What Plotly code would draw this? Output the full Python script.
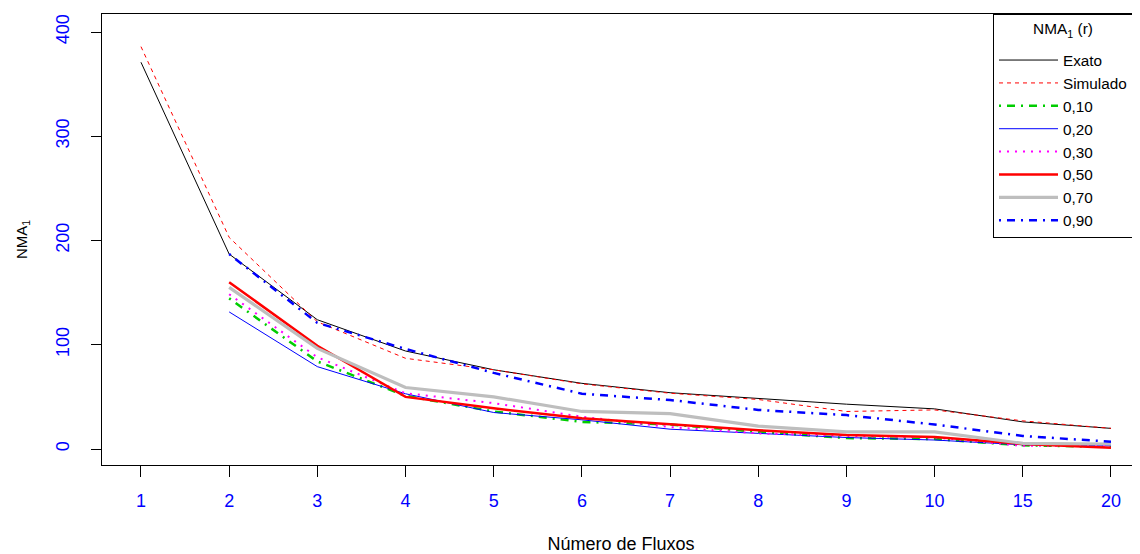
import plotly.graph_objects as go

# ---- data ----
x_labels = ["1", "2", "3", "4", "5", "6", "7", "8", "9", "10", "15", "20"]
exato    = [371, 187, 124, 94, 76, 63, 54, 48.5, 43, 38.5, 26, 19.8]
simulado = [386, 203, 122, 87, 76, 62.5, 53.5, 47.5, 36, 37.5, 27, 19.8]
r_010 = [None, 144.5, 84, 51, 36, 26, 23.5, 16.5, 10.5, 9.5, 3.5, 2]
r_020 = [None, 131.5, 79, 53, 35, 28, 19, 15, 11, 8.6, 4, 3]
r_030 = [None, 148.5, 88, 53.5, 44, 31, 21, 15, 12.5, 11, 3, 3]
r_050 = [None, 160, 99, 50, 39, 29.5, 23.5, 18, 13.5, 11.5, 4.8, 1.3]
r_070 = [None, 155, 96.5, 59, 50, 36, 34, 22, 16.5, 16.5, 5.4, 4.8]
r_090 = [None, 187, 121, 96, 73, 53, 47, 37.5, 32.5, 23.5, 12.5, 7]

names = ["Exato", "Simulado", "0,10", "0,20", "0,30", "0,50", "0,70", "0,90"]
series = [exato, simulado, r_010, r_020, r_030, r_050, r_070, r_090]
styles = [
    dict(color="#000000", width=1, dash="solid"),
    dict(color="#FF0000", width=1, dash="4px,4px"),
    dict(color="#00CD00", width=2.5, dash="2px,6px,8px,6px"),
    dict(color="#0000FF", width=1, dash="solid"),
    dict(color="#FF00FF", width=2, dash="2px,6px"),
    dict(color="#FF0000", width=2.5, dash="solid"),
    dict(color="#BEBEBE", width=3.2, dash="solid"),
    dict(color="#0000FF", width=2.5, dash="2px,6px,8px,6px"),
]

xpos = list(range(1, len(x_labels) + 1))
FONT = "Liberation Sans, Arial, Helvetica, sans-serif"

# page has an 8px body margin: figure coordinates are shifted by 8px
W, H = 1132, 546
ML, MT, MB = 94, 6, 89

fig = go.Figure()
for nm, ys, st in zip(names, series, styles):
    fig.add_trace(go.Scatter(x=xpos, y=ys, mode="lines", name=nm, line=st,
                             connectgaps=False, legendgroup=nm))

fig.update_layout(
    width=W, height=H,
    margin=dict(l=ML, r=0, t=MT, b=MB),
    paper_bgcolor="white", plot_bgcolor="white",
    font=dict(family=FONT, color="black", size=18),
    showlegend=True,
    legend=dict(
        x=(993 - 102) / (1140 - 102), xanchor="left", y=1, yanchor="top",
        bgcolor="white", bordercolor="black", borderwidth=1,
        font=dict(family=FONT, size=15.3, color="black"),
        title=dict(text="<sup>NMA<sub>1</sub> (r)</sup>",
                   side="top center",
                   font=dict(family=FONT, size=22, color="black")),
        itemwidth=59, tracegroupgap=0, traceorder="normal",
    ),
    xaxis=dict(
        range=[0.558, 12.329], tickmode="array", tickvals=xpos, ticktext=x_labels,
        ticks="outside", ticklen=11, tickcolor="black", tickwidth=1,
        showgrid=False, zeroline=False, showline=True, mirror=True,
        linecolor="black", linewidth=1,
        tickfont=dict(family=FONT, size=18, color="#0000FF"),
        ticklabelstandoff=8,
        title=dict(text="Número de Fluxos", standoff=37,
                   font=dict(family=FONT, size=18, color="black")),
        automargin=False,
    ),
    yaxis=dict(
        range=[-15.35, 417.3], tickmode="array", tickvals=[0, 100, 200, 300, 400],
        ticks="outside", ticklen=10, tickcolor="black", tickwidth=1,
        showgrid=False, zeroline=False, showline=True, mirror=False,
        linecolor="black", linewidth=1, tickangle=-90,
        tickfont=dict(family=FONT, size=18, color="#0000FF"),
        ticklabelstandoff=15,
        title=dict(text="NMA<sub>1</sub>", standoff=21,
                   font=dict(family=FONT, size=15, color="black")),
        automargin=False,
    ),
)

fig.write_html("out.html")
